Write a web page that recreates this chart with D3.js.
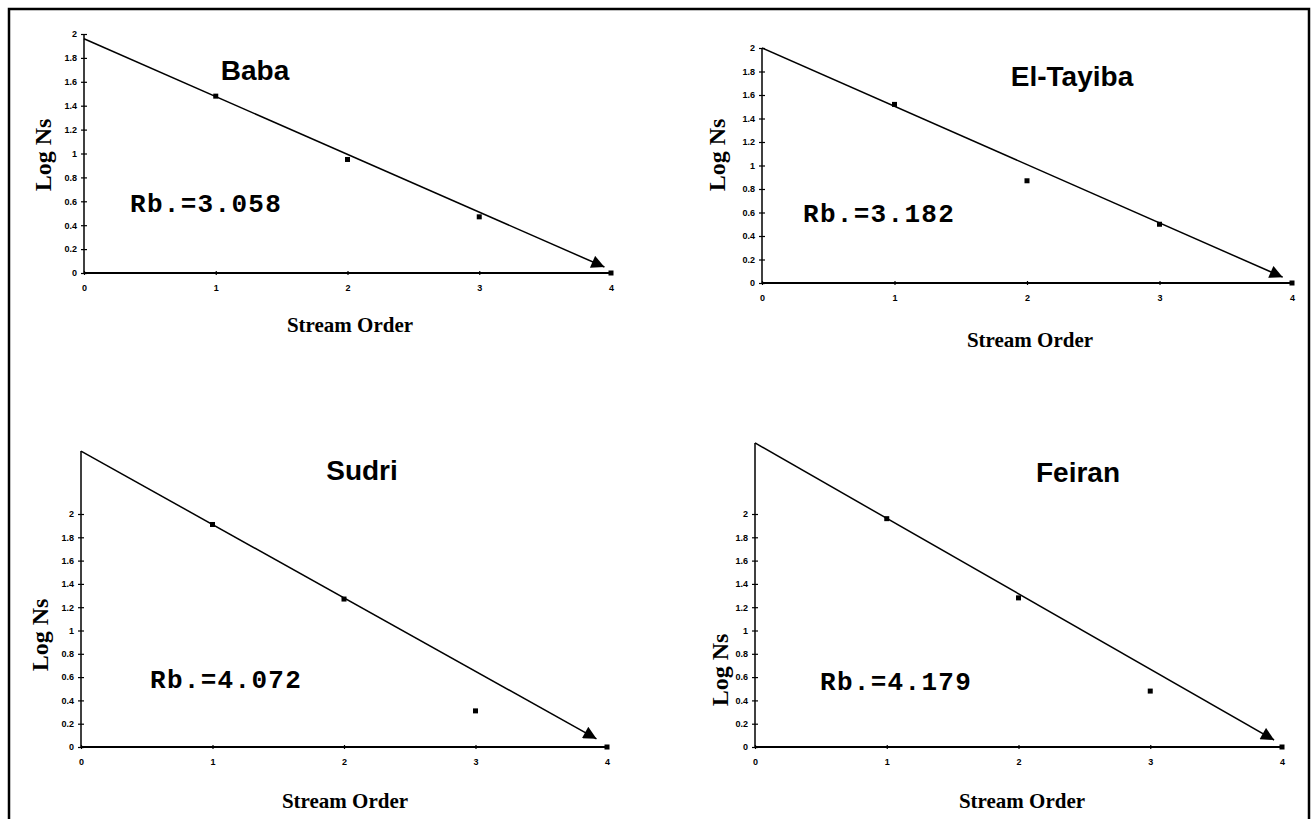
<!DOCTYPE html>
<html>
<head>
<meta charset="utf-8">
<script src="https://cdn.jsdelivr.net/npm/d3@7"></script>
<style>
  html, body { margin: 0; padding: 0; background: #fff; }
  svg { display: block; }
  .tick text { font-family: Arial, "Liberation Sans", sans-serif; font-weight: bold; font-size: 9px; fill: #000; }
  .domain, .tick line { stroke: #000; }
</style>
</head>
<body>
<svg id="chart" width="1314" height="819"></svg>
<script>
// ---- data ----
const basins = ["Baba", "El-Tayiba", "Sudri", "Feiran"];
const streamOrders = [1, 2, 3, 4];
const logNsBaba = [1.48, 0.95, 0.47, 0];
const logNsElTayiba = [1.52, 0.87, 0.50, 0];
const logNsSudri = [1.91, 1.27, 0.31, 0];
const logNsFeiran = [1.96, 1.28, 0.48, 0];
const rbValues = ["3.058", "3.182", "4.072", "4.179"];
// regression line: value at order 0 and value at arrow tip
const lineStartValue = [1.96, 2.00, 2.54, 2.61];
const lineEndOrder = [3.95, 3.93, 3.92, 3.94];
const lineEndValue = [0.05, 0.05, 0.07, 0.06];
const yAxisTop = [2.0, 2.0, 2.54, 2.61];
const xTicks = [0, 1, 2, 3, 4];
const yTicks = [0, 0.2, 0.4, 0.6, 0.8, 1, 1.2, 1.4, 1.6, 1.8, 2];
const xTitle = "Stream Order";
const yTitle = "Log Ns";

const series = [logNsBaba, logNsElTayiba, logNsSudri, logNsFeiran];

// ---- layout (pixel frames for each panel) ----
const frames = [
  { x0: 84,  x4: 611,  y0: 273, y2: 34,  title: [255, 80],   rb: [130, 212], yt: [43, 155],  xt: [350, 332] },
  { x0: 762, x4: 1292, y0: 283, y2: 48,  title: [1072, 86],  rb: [803, 222], yt: [717, 155], xt: [1030, 347] },
  { x0: 81,  x4: 607,  y0: 747, y2: 514, title: [362, 480],  rb: [150, 688], yt: [40, 635],  xt: [345, 808] },
  { x0: 755, x4: 1282, y0: 747, y2: 514, title: [1078, 482], rb: [820, 690], yt: [720, 670], xt: [1022, 808] }
];

const svg = d3.select("#chart");

// outer border
svg.append("rect")
  .attr("x", 9).attr("y", 9).attr("width", 1300).attr("height", 830)
  .attr("fill", "none").attr("stroke", "#000").attr("stroke-width", 2.5);

const defs = svg.append("defs");
defs.append("marker")
  .attr("id", "arrow")
  .attr("viewBox", "0 0 10 10")
  .attr("refX", 10).attr("refY", 5)
  .attr("markerWidth", 15).attr("markerHeight", 13)
  .attr("markerUnits", "userSpaceOnUse")
  .attr("orient", "auto")
  .append("path").attr("d", "M0,0 L10,5 L0,10 Z").attr("fill", "#000");

frames.forEach((f, i) => {
  const x = d3.scaleLinear().domain([0, 4]).range([f.x0, f.x4]);
  const y = d3.scaleLinear().domain([0, 2]).range([f.y0, f.y2]);
  const g = svg.append("g");

  // y axis
  const yAxis = g.append("g")
    .attr("transform", `translate(${f.x0},0)`)
    .call(d3.axisLeft(y).tickValues(yTicks).tickSize(3).tickSizeOuter(0)
      .tickFormat(d => String(+d.toFixed(1))));
  yAxis.select(".domain").remove();
  yAxis.selectAll(".tick line").attr("x1", -3).attr("x2", 3).attr("stroke-width", 1.2);
  yAxis.selectAll(".tick text").attr("x", -7);
  g.append("line")
    .attr("x1", f.x0).attr("x2", f.x0)
    .attr("y1", y(0)).attr("y2", y(yAxisTop[i]))
    .attr("stroke", "#000").attr("stroke-width", 1.5);

  // x axis
  const xAxis = g.append("g")
    .attr("transform", `translate(0,${f.y0})`)
    .call(d3.axisBottom(x).tickValues(xTicks).tickSize(3).tickSizeOuter(0)
      .tickFormat(d3.format("d")));
  xAxis.select(".domain").remove();
  xAxis.selectAll(".tick line").attr("y1", -2).attr("y2", 2).attr("stroke-width", 1.2);
  xAxis.selectAll(".tick text").attr("y", 12);
  g.append("line")
    .attr("x1", x(0)).attr("x2", x(4))
    .attr("y1", f.y0).attr("y2", f.y0)
    .attr("stroke", "#000").attr("stroke-width", 1.8);

  // regression line with arrow
  g.append("line")
    .attr("x1", x(0)).attr("y1", y(lineStartValue[i]))
    .attr("x2", x(lineEndOrder[i])).attr("y2", y(lineEndValue[i]))
    .attr("stroke", "#000").attr("stroke-width", 1.5)
    .attr("marker-end", "url(#arrow)");

  // data points
  g.selectAll("rect.pt").data(series[i]).join("rect")
    .attr("class", "pt")
    .attr("x", (d, j) => x(streamOrders[j]) - 2.5)
    .attr("y", d => y(d) - 2.5)
    .attr("width", 5).attr("height", 5)
    .attr("fill", "#000");

  // title
  g.append("text")
    .attr("x", f.title[0]).attr("y", f.title[1])
    .attr("text-anchor", "middle")
    .attr("font-family", "Arial, 'Liberation Sans', sans-serif")
    .attr("font-weight", "bold").attr("font-size", 28)
    .text(basins[i]);

  // Rb label
  g.append("text")
    .attr("x", f.rb[0]).attr("y", f.rb[1])
    .attr("font-family", "'Liberation Mono', 'Courier New', monospace")
    .attr("font-weight", "bold").attr("font-size", 26)
    .attr("letter-spacing", 1.3)
    .text("Rb.=" + rbValues[i]);

  // axis titles
  g.append("text")
    .attr("transform", `translate(${f.yt[0]},${f.yt[1]}) rotate(-90)`)
    .attr("text-anchor", "middle").attr("dy", "0.35em")
    .attr("font-family", "'Liberation Serif', 'Times New Roman', serif")
    .attr("font-weight", "bold").attr("font-size", 24)
    .text(yTitle);
  g.append("text")
    .attr("x", f.xt[0]).attr("y", f.xt[1])
    .attr("text-anchor", "middle")
    .attr("font-family", "'Liberation Serif', 'Times New Roman', serif")
    .attr("font-weight", "bold").attr("font-size", 21)
    .text(xTitle);
});
</script>
</body>
</html>
